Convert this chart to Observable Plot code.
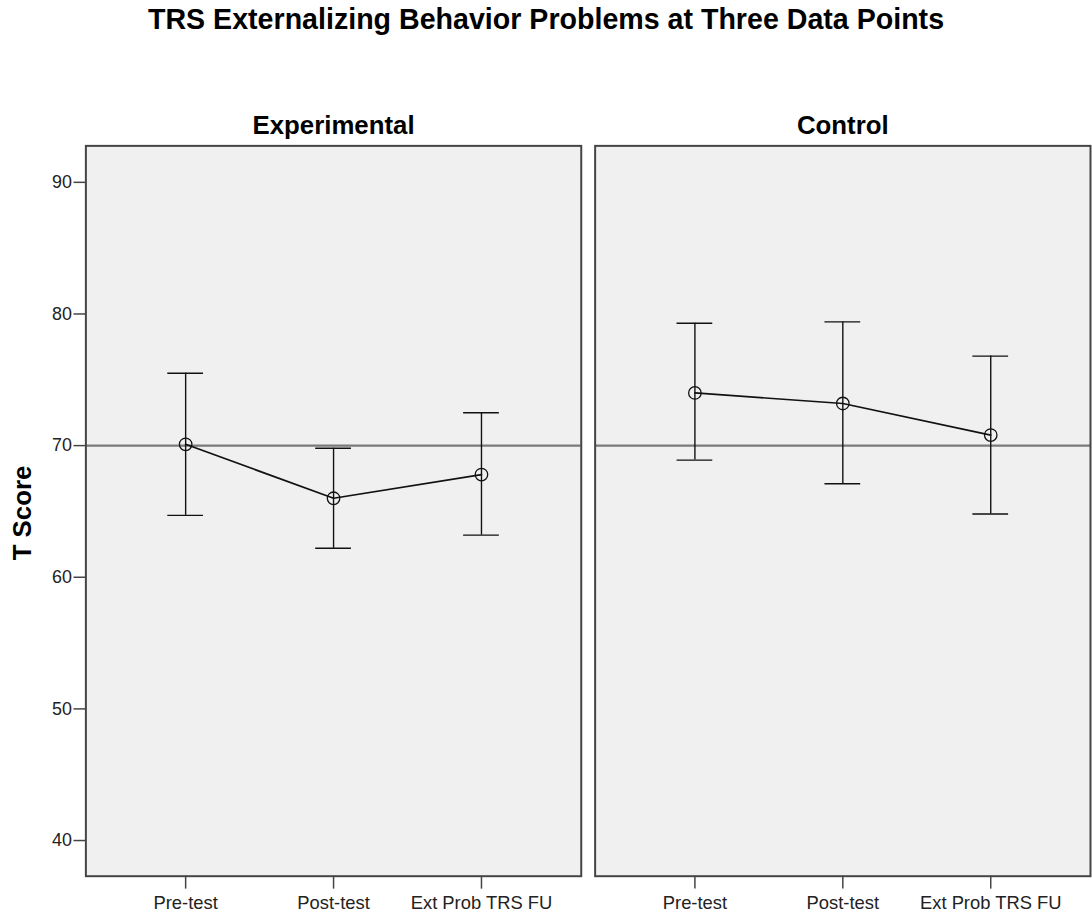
<!DOCTYPE html>
<html>
<head>
<meta charset="utf-8">
<script src="https://cdn.jsdelivr.net/npm/d3@7"></script>
<script src="https://cdn.jsdelivr.net/npm/@observablehq/plot@0.6"></script>
<style>
  html, body { margin: 0; padding: 0; background: #fff; overflow: hidden; width: 1092px; height: 922px; }
  #title { height: 60px; box-sizing: border-box; padding-top: 5px; font: bold 28.6px "Liberation Sans", Arial, sans-serif; line-height: 28px; text-align: center; color: #000; width: 1092px; white-space: nowrap; }
  #chart svg { display: block; }
</style>
</head>
<body>
<div id="title">TRS Externalizing Behavior Problems at Three Data Points</div>
<div id="chart"></div>
<script>
const groups = ["Experimental", "Control"];
const times = ["Pre-test", "Post-test", "Ext Prob TRS FU"];
const expMean = [70.1, 66.0, 67.8];
const expLow = [64.7, 62.2, 63.2];
const expHigh = [75.5, 69.8, 72.5];
const ctrlMean = [74.0, 73.2, 70.8];
const ctrlLow = [68.9, 67.1, 64.8];
const ctrlHigh = [79.3, 79.4, 76.8];
const yTicks = [40, 50, 60, 70, 80, 90];
const refValue = 70;
const yLabel = "T Score";

const series = [
  {mean: expMean, low: expLow, high: expHigh},
  {mean: ctrlMean, low: ctrlLow, high: ctrlHigh}
];
const data = groups.flatMap((g, gi) => times.map((t, i) => ({
  group: g, time: t, mean: series[gi].mean[i], low: series[gi].low[i], high: series[gi].high[i]
})));
const labelData = [{text: yLabel, group: groups[0]}];

const font = '"Liberation Sans", Arial, sans-serif';

const chart = Plot.plot({
  width: 1100,
  height: 862,
  marginLeft: 85,
  marginRight: 2,
  marginTop: 86,
  marginBottom: 40.3,
  style: {fontFamily: font, fontSize: "18px", color: "#222", background: "white", overflow: "visible"},
  fx: {domain: groups, paddingInner: 0.0273, paddingOuter: 0, label: null},
  x: {type: "band", domain: times, paddingInner: 0, paddingOuter: 0.165, label: null},
  y: {domain: [37.29, 92.77], label: null},
  marks: [
    Plot.frame({fill: "#f0f0f0", stroke: "none"}),
    Plot.ruleY([refValue], {stroke: "#7a7a7a", strokeWidth: 2.3}),
    Plot.ruleX(data, {x: "time", fx: "group", y1: "low", y2: "high", stroke: "#111", strokeWidth: 1.4}),
    Plot.tickY(data, {x: "time", fx: "group", y: "low", stroke: "#111", strokeWidth: 1.4, insetLeft: 56.5, insetRight: 56.5}),
    Plot.tickY(data, {x: "time", fx: "group", y: "high", stroke: "#111", strokeWidth: 1.4, insetLeft: 56.5, insetRight: 56.5}),
    Plot.line(data, {x: "time", fx: "group", y: "mean", stroke: "#111", strokeWidth: 1.7}),
    Plot.dot(data, {x: "time", fx: "group", y: "mean", r: 6.3, stroke: "#111", fill: "none", strokeWidth: 1.3}),
    Plot.frame({stroke: "#444", strokeWidth: 2}),
    Plot.text(labelData, {fx: "group", text: "text", frameAnchor: "left", textAnchor: "middle", lineAnchor: "middle",
      rotate: -90, dx: -64, dy: 2, fontSize: 26, fontWeight: "bold", fill: "#000"}),
    Plot.axisFx({anchor: "top", tickSize: 0, tickPadding: 12, fontSize: 26, fontWeight: "bold", label: null, fill: "#000"}),
    Plot.axisX({tickSize: 13, tickPadding: 7, fontSize: 18.5, stroke: "#444", strokeWidth: 1.5, label: null, fill: "#222"}),
    Plot.axisY({ticks: yTicks, tickSize: 12, tickPadding: 2, fontSize: 18, stroke: "#444", strokeWidth: 1.5, fill: "#222", label: null})
  ]
});
document.getElementById("chart").appendChild(chart);
</script>
</body>
</html>
